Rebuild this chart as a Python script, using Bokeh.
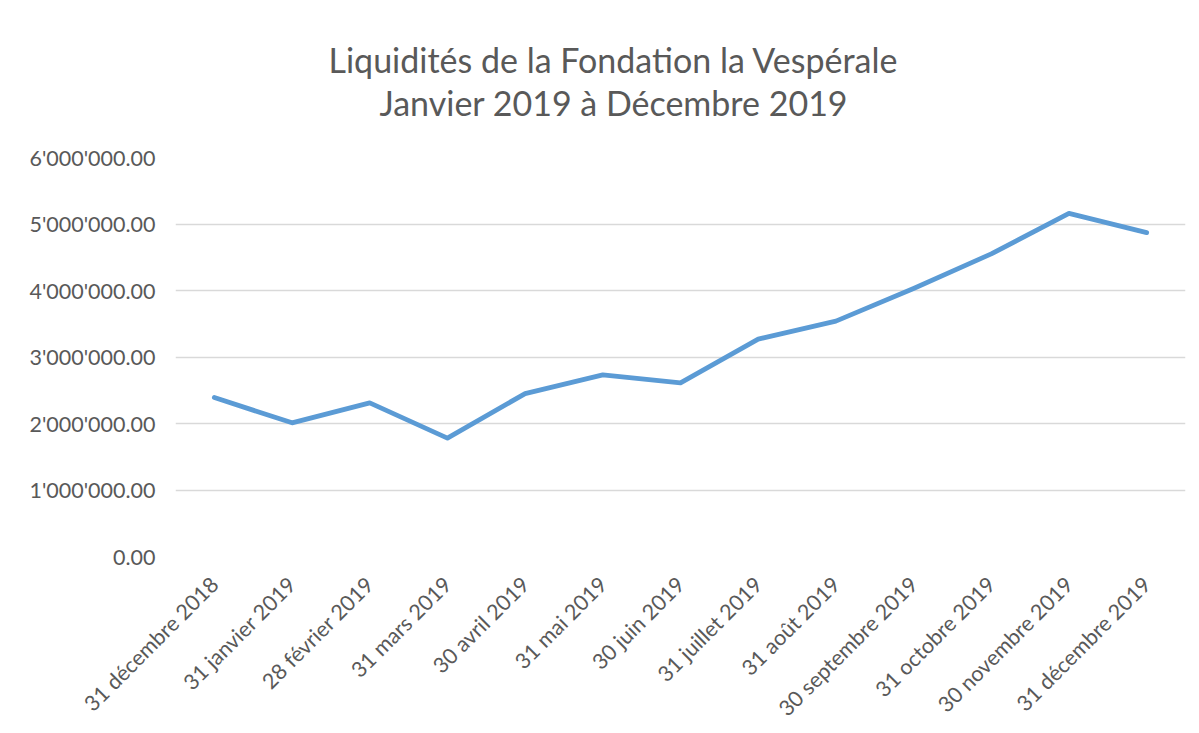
from bokeh.plotting import figure
from bokeh.models import Range1d, FactorRange, CustomJSTickFormatter, Title, FixedTicker
from bokeh.embed import file_html
from bokeh.resources import INLINE
import math

dates = ["31 décembre 2018", "31 janvier 2019", "28 février 2019", "31 mars 2019",
         "30 avril 2019", "31 mai 2019", "30 juin 2019", "31 juillet 2019",
         "31 août 2019", "30 septembre 2019", "31 octobre 2019", "30 novembre 2019",
         "31 décembre 2019"]
liquidites = [2390000, 2010000, 2310000, 1780000, 2450000, 2730000, 2610000,
              3270000, 3540000, 4030000, 4550000, 5160000, 4870000]
y_ticks = [0, 1000000, 2000000, 3000000, 4000000, 5000000, 6000000]
title_line1 = "Liquidités de la Fondation la Vespérale"
title_line2 = "Janvier 2019 à Décembre 2019"

FONT = "Lato"
GREY = "#595959"

p = figure(width=1191, height=733, output_backend="svg", toolbar_location=None,
           x_range=FactorRange(*dates), y_range=Range1d(0, 6000000),
           min_border_left=175, min_border_right=6, min_border_top=157,
           min_border_bottom=170)
p.outline_line_color = None
p.background_fill_color = "white"
p.border_fill_color = "white"

p.line(x=dates, y=liquidites, line_color="#5B9BD5", line_width=4.8,
       line_cap="round", line_join="round")

p.yaxis.ticker = FixedTicker(ticks=y_ticks)
p.yaxis.formatter = CustomJSTickFormatter(code="""
const s = tick.toFixed(2);
const parts = s.split('.');
return parts[0].replace(/\\B(?=(\\d{3})+(?!\\d))/g, "'") + '.' + parts[1];
""")
for ax in [p.xaxis[0], p.yaxis[0]]:
    ax.axis_line_color = None
    ax.major_tick_line_color = None
    ax.minor_tick_line_color = None
    ax.major_label_text_color = GREY
    ax.major_label_text_font = FONT
p.yaxis.major_label_text_font_size = "21.5px"
p.xaxis.major_label_text_font_size = "21.5px"
p.yaxis.major_label_standoff = 14
p.xaxis.major_label_orientation = math.pi / 4
p.xaxis.major_label_standoff = 18

p.xgrid.grid_line_color = None
p.ygrid.grid_line_color = "#d9d9d9"
p.ygrid.grid_line_width = 1.5

# spacer between plot and titles, then subtitle, then main line on top
p.add_layout(Title(text=" ", standoff=22, text_font_size="10px"), "above")
p.add_layout(Title(text=title_line2, align="left", offset=204, standoff=0,
                   text_font=FONT, text_font_size="34px", text_font_style="normal",
                   text_color=GREY), "above")
p.add_layout(Title(text=title_line1, align="left", offset=153, standoff=0,
                   text_font=FONT, text_font_size="34px", text_font_style="normal",
                   text_color=GREY), "above")

open("out.html", "w").write(file_html(p, INLINE))
